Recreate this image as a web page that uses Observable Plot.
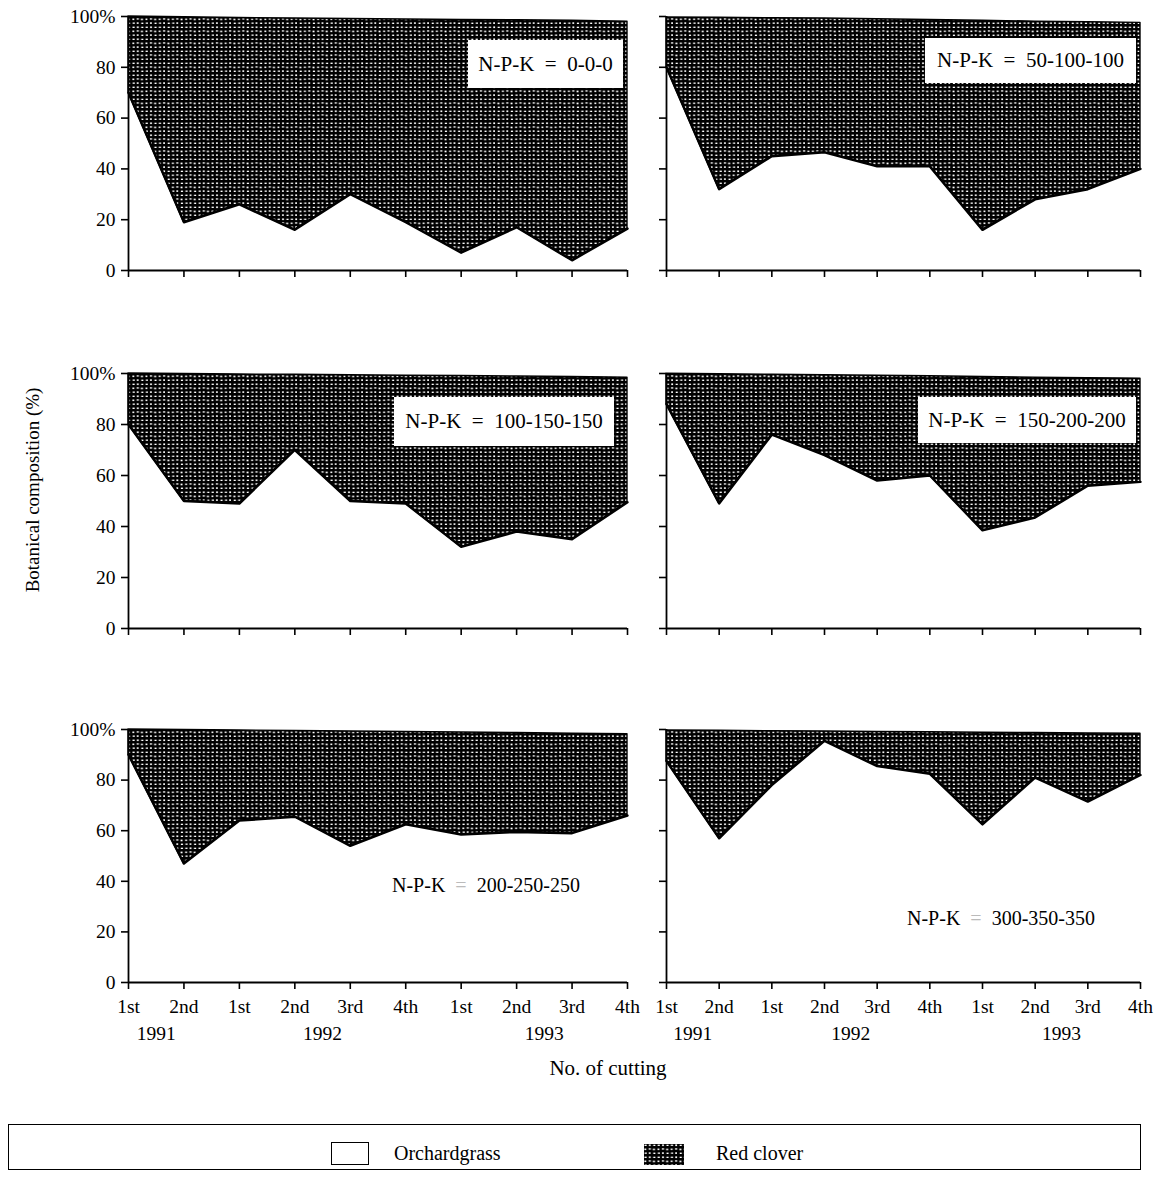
<!DOCTYPE html>
<html>
<head>
<meta charset="utf-8">
<script src="https://cdn.jsdelivr.net/npm/d3@7"></script>
<script src="https://cdn.jsdelivr.net/npm/@observablehq/plot@0.6"></script>
<style>
  html, body { margin: 0; padding: 0; background: #fff; }
  body { font-family: "Liberation Serif", "DejaVu Serif", serif; color: #000; }
  #root { position: relative; width: 1161px; height: 1184px; overflow: hidden; background: #fff; }
  .panel { position: absolute; }
  .npk { position: absolute; background: #fff; font-size: 21px; white-space: pre; line-height: 1; display: flex; align-items: center; justify-content: center; }
  .free { position: absolute; font-size: 20px; white-space: pre; line-height: 1; }
  .free .eq { color: #bbb; }
  .ytitle { position: absolute; font-size: 19px; white-space: nowrap; transform: translate(-50%, -50%) rotate(-90deg); }
  .xtitle { position: absolute; font-size: 21px; white-space: nowrap; transform: translate(-50%, -50%); }
  .legend { position: absolute; border: 1px solid #000; box-sizing: border-box; }
  .legend .sw { position: absolute; box-sizing: border-box; }
  .legend .lt { position: absolute; font-size: 20px; white-space: nowrap; transform: translateY(-50%); }
</style>
</head>
<body>
<svg width="0" height="0" style="position:absolute">
  <defs>
    <pattern id="rc" patternUnits="userSpaceOnUse" width="13.2" height="12">
      <rect width="13.2" height="12" fill="#000"></rect>
      <rect x="0.5" y="0.6" width="2.1" height="1.4" fill="#fff"></rect>
      <rect x="4.9" y="0.4" width="1.8" height="1.7" fill="#fff"></rect>
      <rect x="9.2" y="0.7" width="2.2" height="1.3" fill="#fff"></rect>
      <rect x="0.4" y="4.5" width="1.8" height="1.6" fill="#fff"></rect>
      <rect x="4.6" y="4.3" width="2.3" height="1.3" fill="#fff"></rect>
      <rect x="9.0" y="4.6" width="1.9" height="1.7" fill="#fff"></rect>
      <rect x="0.6" y="8.5" width="2.2" height="1.3" fill="#fff"></rect>
      <rect x="4.8" y="8.3" width="1.8" height="1.6" fill="#fff"></rect>
      <rect x="9.3" y="8.6" width="2.1" height="1.4" fill="#fff"></rect>
    </pattern>
  </defs>
</svg>
<div id="root"></div>
<script>
// ---------------- data ----------------
const cuttings    = ["1st","2nd","1st","2nd","3rd","4th","1st","2nd","3rd","4th"];
const cuttingYear = ["1991","1991","1992","1992","1992","1992","1993","1993","1993","1993"];
const treatments  = ["0-0-0","50-100-100","100-150-150","150-200-200","200-250-250","300-350-350"];
const yTicks      = [0, 20, 40, 60, 80, 100];

// Orchardgrass share (%) — boundary between white and patterned areas
const orchardgrass_0_0_0       = [70, 19, 26, 16, 30, 19, 7, 17, 4, 16.5];
const orchardgrass_50_100_100  = [80, 32, 45, 46.5, 41, 41, 16, 28, 32, 40];
const orchardgrass_100_150_150 = [80, 50, 49, 70, 50, 49, 32, 38, 35, 49.5];
const orchardgrass_150_200_200 = [88, 49, 76, 68, 58, 60, 38.5, 43.5, 56, 57.5];
const orchardgrass_200_250_250 = [90, 47, 64, 65.5, 54, 62.5, 58.5, 59.5, 59, 66];
const orchardgrass_300_350_350 = [87.5, 57, 78, 95.5, 85.5, 82.5, 62.5, 81, 71.5, 82];

// Orchardgrass + red clover (%) — upper edge of the patterned area
const total_0_0_0       = [100, 99.7, 99.4, 99.2, 99, 98.8, 98.6, 98.5, 98.3, 98];
const total_50_100_100  = [99.6, 99.5, 99.3, 99.2, 98.9, 98.6, 98.3, 98, 97.8, 97.5];
const total_100_150_150 = [100, 99.8, 99.6, 99.5, 99.3, 99.1, 99, 98.8, 98.6, 98.4];
const total_150_200_200 = [99.9, 99.7, 99.5, 99.3, 99.1, 98.9, 98.6, 98.4, 98.2, 98];
const total_200_250_250 = [100, 99.8, 99.6, 99.4, 99.2, 99, 98.8, 98.6, 98.3, 98.1];
const total_300_350_350 = [99.6, 99.5, 99.3, 99.2, 99, 98.9, 98.7, 98.6, 98.4, 98.3];

const legendLabels = ["Orchardgrass", "Red clover"];

const orchardSeries = [orchardgrass_0_0_0, orchardgrass_50_100_100, orchardgrass_100_150_150,
                       orchardgrass_150_200_200, orchardgrass_200_250_250, orchardgrass_300_350_350];
const totalSeries   = [total_0_0_0, total_50_100_100, total_100_150_150,
                       total_150_200_200, total_200_250_250, total_300_350_350];

// ---------------- layout ----------------
const root = document.getElementById("root");
const colLayout = [
  {left: 0,   width: 640, ml: 128, mr: 13},
  {left: 640, width: 521, ml: 26,  mr: 21}
];
const rowTop    = [16, 373, 729];
const rowBottom = [270, 628, 982];
const mt = 14;
const mbRow = [14, 14, 75];

// NPK label placement (page px): boxed for top two rows, free text for bottom row
const npkPlace = [
  {box: true,  left: 468, top: 40,  w: 155, h: 48},
  {box: true,  left: 925, top: 38,  w: 211, h: 45},
  {box: true,  left: 394, top: 397, w: 220, h: 49},
  {box: true,  left: 918, top: 397, w: 218, h: 46},
  {box: false, left: 392, top: 875},
  {box: false, left: 907, top: 908}
];

const yearGroups = Array.from(
  d3.rollup(cuttings.map((c, j) => ({j, y: cuttingYear[j]})), v => d3.mean(v, d => d.j), d => d.y),
  ([year, center]) => ({year, center})
);

treatments.forEach((t, k) => {
  const row = Math.floor(k / 2), col = k % 2;
  const L = colLayout[col];
  const plotH = rowBottom[row] - rowTop[row];
  const height = mt + plotH + mbRow[row];
  const data = cuttings.map((c, j) => ({i: j, og: orchardSeries[k][j], top: totalSeries[k][j]}));

  const marks = [
    Plot.areaY(data, {x: "i", y1: "og", y2: "top", fill: "url(#rc)", stroke: "#000", strokeWidth: 1.4}),
    Plot.lineY(data, {x: "i", y: "og", stroke: "#000", strokeWidth: 2.4}),
    Plot.ruleX([0], {stroke: "#000", strokeWidth: 1.8}),
    Plot.ruleY([0], {stroke: "#000", strokeWidth: 1.8}),
    Plot.axisY({
      ticks: yTicks, tickSize: 7, tickPadding: 6, strokeWidth: 1.6, label: null,
      fontSize: 19.5,
      tickFormat: col === 0 ? (d => d === 100 ? "100%" : String(d)) : (() => "")
    }),
    Plot.axisX({
      ticks: d3.range(cuttings.length), tickSize: 7, tickPadding: 10, strokeWidth: 1.6, label: null,
      fontSize: 19.5,
      tickFormat: row === 2 ? (j => cuttings[j]) : (() => "")
    })
  ];
  if (row === 2) {
    marks.push(Plot.text(yearGroups, {x: "center", text: "year", frameAnchor: "bottom", dy: 57, fontSize: 19.5}));
  }

  const chart = Plot.plot({
    width: L.width, height,
    marginLeft: L.ml, marginRight: L.mr, marginTop: mt, marginBottom: mbRow[row],
    x: {domain: [0, cuttings.length - 1], label: null},
    y: {domain: [0, 100], label: null},
    style: {fontFamily: "Liberation Serif, serif", fontSize: "19.5px", color: "#000", background: "transparent", overflow: "visible"},
    marks
  });
  const wrap = document.createElement("div");
  wrap.className = "panel";
  wrap.style.left = L.left + "px";
  wrap.style.top = (rowTop[row] - mt) + "px";
  wrap.appendChild(chart);
  root.appendChild(wrap);

  const p = npkPlace[k];
  const lab = document.createElement("div");
  if (p.box) {
    lab.textContent = "N-P-K  =  " + t;
    lab.className = "npk";
    lab.style.left = p.left + "px"; lab.style.top = p.top + "px";
    lab.style.width = p.w + "px"; lab.style.height = p.h + "px";
  } else {
    lab.className = "free";
    lab.append("N-P-K  ");
    const eq = document.createElement("span");
    eq.className = "eq"; eq.textContent = "=";
    lab.append(eq);
    lab.append("  " + t);
    lab.style.left = p.left + "px"; lab.style.top = p.top + "px";
  }
  root.appendChild(lab);
});

// axis titles
const yt = document.createElement("div");
yt.className = "ytitle"; yt.textContent = "Botanical composition (%)";
yt.style.left = "33px"; yt.style.top = "490px";
root.appendChild(yt);

const xt = document.createElement("div");
xt.className = "xtitle"; xt.textContent = "No. of cutting";
xt.style.left = "608px"; xt.style.top = "1068px";
root.appendChild(xt);

// legend
const lg = document.createElement("div");
lg.className = "legend";
Object.assign(lg.style, {left: "8px", top: "1124px", width: "1133px", height: "46px"});
const sw1 = document.createElement("div");
sw1.className = "sw";
Object.assign(sw1.style, {left: "322px", top: "17px", width: "38px", height: "23px", border: "1.5px solid #000", background: "#fff"});
lg.appendChild(sw1);
const t1 = document.createElement("div");
t1.className = "lt"; t1.textContent = legendLabels[0];
Object.assign(t1.style, {left: "385px", top: "28px"});
lg.appendChild(t1);
const sw2 = document.createElementNS("http://www.w3.org/2000/svg", "svg");
sw2.setAttribute("width", "40"); sw2.setAttribute("height", "21");
Object.assign(sw2.style, {position: "absolute", left: "635px", top: "19px"});
const r2 = document.createElementNS("http://www.w3.org/2000/svg", "rect");
r2.setAttribute("width", "40"); r2.setAttribute("height", "21"); r2.setAttribute("fill", "url(#rc)");
sw2.appendChild(r2);
lg.appendChild(sw2);
const t2 = document.createElement("div");
t2.className = "lt"; t2.textContent = legendLabels[1];
Object.assign(t2.style, {left: "707px", top: "28px"});
lg.appendChild(t2);
root.appendChild(lg);
</script>
</body>
</html>
